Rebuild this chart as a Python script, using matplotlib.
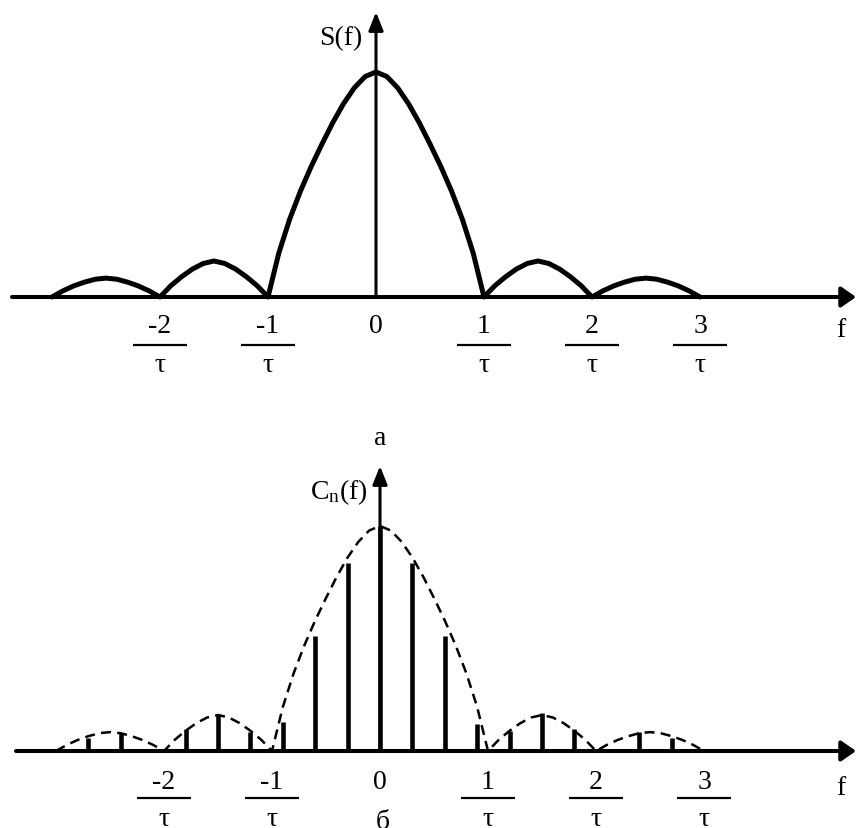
import numpy as np
import matplotlib
matplotlib.use("Agg")
import matplotlib.pyplot as plt

plt.rcParams["font.family"] = ["Liberation Serif", "DejaVu Serif"]
plt.rcParams["mathtext.fontset"] = "custom"
plt.rcParams["mathtext.rm"] = "Liberation Serif"
plt.rcParams["mathtext.it"] = "Liberation Serif:italic"

# frequency grid, in units of 1/tau
freq = np.linspace(-3.0, 3.0, 61)
# continuous amplitude spectrum S(f) (relative to its peak)
spectrum = [
    0.0, 0.027, 0.049, 0.066, 0.079, 0.084, 0.079, 0.066, 0.049, 0.027,
    0.0, 0.05, 0.09, 0.124, 0.149, 0.16, 0.149, 0.124, 0.09, 0.05,
    0.0, 0.195, 0.345, 0.47, 0.58, 0.68, 0.775, 0.86, 0.93, 0.98,
    1.0,
    0.98, 0.93, 0.86, 0.775, 0.68, 0.58, 0.47, 0.345, 0.195, 0.0,
    0.05, 0.09, 0.124, 0.149, 0.16, 0.149, 0.124, 0.09, 0.05, 0.0,
    0.027, 0.049, 0.066, 0.079, 0.084, 0.079, 0.066, 0.049, 0.027, 0.0,
]

# discrete line spectrum C_n of the periodic sequence
line_freq = [-2.7, -2.4, -1.8, -1.5, -1.2, -0.9, -0.6, -0.3, 0.0,
             0.3, 0.6, 0.9, 1.2, 1.5, 1.8, 2.4, 2.7]
line_amp = [0.058, 0.08, 0.098, 0.164, 0.084, 0.13, 0.51, 0.836, 1.0,
            0.836, 0.51, 0.12, 0.09, 0.17, 0.10, 0.084, 0.058]

# axis labels: numerators of k/tau
tick_pos = [-2, -1, 0, 1, 2, 3]
tick_num = ["-2", "-1", "0", "1", "2", "3"]

W, H = 856, 829
fig = plt.figure(figsize=(W / 100, H / 100), dpi=100)
FS = 20

def make_axes(top_px, bot_px, x0_px, base_px, unit_px, scale_px):
    ax = fig.add_axes([0, (H - bot_px) / H, 1, (bot_px - top_px) / H])
    ax.set_xlim(-x0_px / unit_px, (W - x0_px) / unit_px)
    ax.set_ylim((base_px - bot_px) / scale_px, (base_px - top_px) / scale_px)
    ax.axis("off")
    return ax

def px_to_y(base_px, scale_px, y_px):
    return (base_px - y_px) / scale_px

def draw_axes_arrows(ax, x_left, x_tip, y_tip, lw_h, lw_v):
    ax.annotate("", xy=(x_tip, 0), xytext=(x_left, 0),
                arrowprops=dict(arrowstyle="-|>,head_length=0.4,head_width=0.28",
                                lw=lw_h, color="black", shrinkA=0, shrinkB=0,
                                mutation_scale=22),
                annotation_clip=False)
    ax.annotate("", xy=(0, y_tip), xytext=(0, 0),
                arrowprops=dict(arrowstyle="-|>,head_length=0.5,head_width=0.2",
                                lw=lw_v, color="black", shrinkA=0, shrinkB=0,
                                mutation_scale=22),
                annotation_clip=False)

def draw_ticks(ax, base_px, scale_px, num_px, bar_px, den_px):
    yn = px_to_y(base_px, scale_px, num_px)
    yb = px_to_y(base_px, scale_px, bar_px)
    yd = px_to_y(base_px, scale_px, den_px)
    for p, t in zip(tick_pos, tick_num):
        ax.text(p, yn, t, ha="center", va="baseline", fontsize=FS)
        if p != 0:
            ax.plot([p - 0.25, p + 0.25], [yb, yb], color="black", lw=1.6,
                    solid_capstyle="butt")
            ax.text(p, yd, "τ", ha="center", va="baseline", fontsize=FS)

# ---- panel a: continuous spectrum ----
base_a, scale_a, x0_a, unit = 298, 225, 376, 108
ax1 = make_axes(0, 420, x0_a, base_a, unit, scale_a)
draw_axes_arrows(ax1, (12 - x0_a) / unit, (W - x0_a) / unit,
                 px_to_y(base_a, scale_a, 13), 2.9, 2.2)
ax1.plot(freq, spectrum, color="black", lw=3.6, solid_joinstyle="round",
         solid_capstyle="round")
ax1.text((362 - x0_a) / unit, px_to_y(base_a, scale_a, 45), "S(f)",
         ha="right", va="baseline", fontsize=FS)
ax1.text((841 - x0_a) / unit, px_to_y(base_a, scale_a, 337), "f",
         ha="center", va="baseline", fontsize=FS)
draw_ticks(ax1, base_a, scale_a, 333, 346, 372)

fig.text(380 / W, (H - 445) / H, "а", ha="center", va="baseline", fontsize=FS)

# ---- panel b: line spectrum with dashed envelope ----
base_b, scale_b, x0_b = 752, 225, 380
ax2 = make_axes(440, H, x0_b, base_b, unit, scale_b)
draw_axes_arrows(ax2, (16 - x0_b) / unit, (W - x0_b) / unit,
                 px_to_y(base_b, scale_b, 467), 2.9, 2.2)
ax2.plot(freq, spectrum, color="black", lw=1.8, linestyle=(0, (4, 2.5)))
ax2.vlines(line_freq, 0, line_amp, color="black", lw=3.3)
ax2.text((368 - x0_b) / unit, px_to_y(base_b, scale_b, 499), r"C$_{\mathrm{n}}$(f)",
         ha="right", va="baseline", fontsize=FS)
ax2.text((841 - x0_b) / unit, px_to_y(base_b, scale_b, 795), "f",
         ha="center", va="baseline", fontsize=FS)
draw_ticks(ax2, base_b, scale_b, 789, 799, 826)
ax2.text(0.03, px_to_y(base_b, scale_b, 829), "б", ha="center", va="baseline",
         fontsize=FS)

fig.savefig("out.png", dpi=100)
